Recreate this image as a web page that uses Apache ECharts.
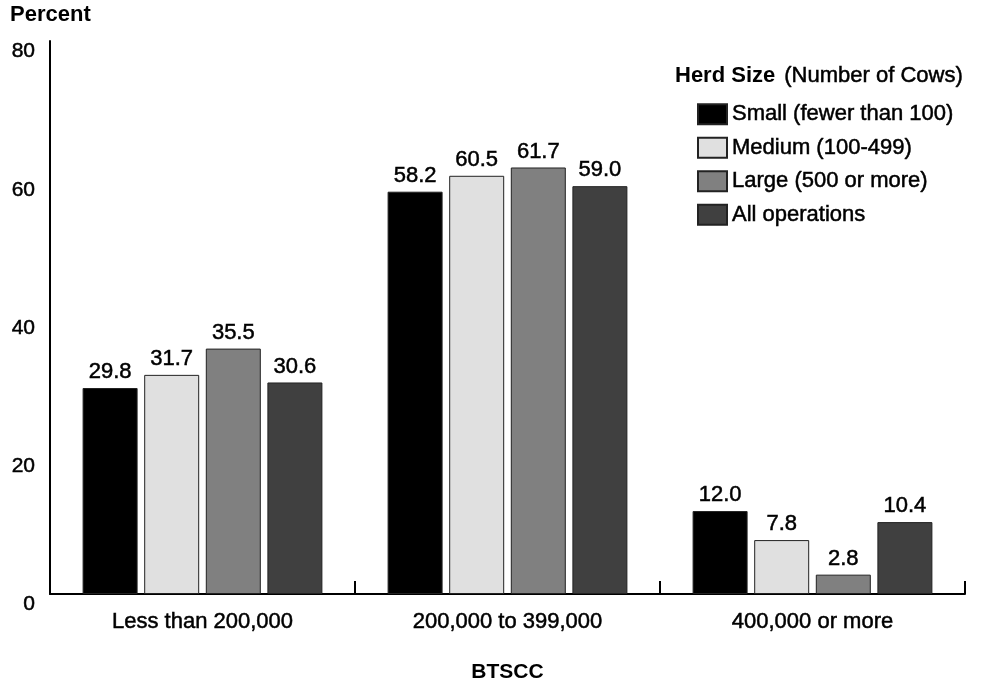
<!DOCTYPE html>
<html>
<head>
<meta charset="utf-8">
<script src="https://cdn.jsdelivr.net/npm/echarts@6/dist/echarts.min.js"></script>
<style>html,body{margin:0;padding:0;background:#fff}#c{width:985px;height:690px}</style>
</head>
<body>
<div id="c"></div>
<script>
const categories = ['Less than 200,000', '200,000 to 399,000', '400,000 or more'];
const seriesNames = ['Small (fewer than 100)', 'Medium (100-499)', 'Large (500 or more)', 'All operations'];
const small = [29.8, 58.2, 12.0];
const medium = [31.7, 60.5, 7.8];
const large = [35.5, 61.7, 2.8];
const allOps = [30.6, 59.0, 10.4];
const yTicks = [0, 20, 40, 60, 80];
const colors = ['#000000', '#e0e0e0', '#808080', '#404040'];

const FONT = 'Arial, "Liberation Sans", sans-serif';
const HEAVY = {textBorderColor: '#000', textBorderWidth: 0.5};
const chart = echarts.init(document.getElementById('c'), null, {renderer: 'canvas'});
const datasets = [small, medium, large, allOps];

const option = {
  animation: false,
  textStyle: {fontFamily: FONT, color: '#000'},
  grid: {left: 50, right: 20, top: 41, bottom: 96, containLabel: false, outerBoundsMode: 'none'},
  graphic: [
    {type: 'text', left: 10, top: 4, style: {text: 'Percent', font: 'bold 22px ' + FONT, fill: '#000'}},
    {type: 'text', left: 675, top: 65, style: {text: 'Herd Size', font: 'bold 22px ' + FONT, fill: '#000'}},
    {type: 'text', left: 784, top: 65, style: {text: '(Number of Cows)', font: '22px ' + FONT, fill: '#000', stroke: '#000', lineWidth: 0.5}}
  ],
  legend: {
    orient: 'vertical', left: 697, top: 103, padding: 0,
    itemWidth: 29, itemHeight: 20, itemGap: 11, icon: 'rect',
    textStyle: Object.assign({fontSize: 22, fontFamily: FONT, color: '#000'}, HEAVY),
    data: seriesNames
  },
  xAxis: {
    type: 'category', data: categories,
    name: 'BTSCC', nameLocation: 'middle', nameGap: 68,
    nameTextStyle: {fontWeight: 'bold', fontSize: 21, fontFamily: FONT, color: '#000'},
    axisLine: {lineStyle: {color: '#000', width: 2}},
    axisTick: {show: true, inside: true, length: 13, lineStyle: {color: '#000', width: 2}},
    axisLabel: Object.assign({fontSize: 22, fontFamily: FONT, color: '#000', margin: 17}, HEAVY)
  },
  yAxis: {
    type: 'value', min: 0, max: 80, interval: 20,
    axisLine: {show: true, lineStyle: {color: '#000', width: 2}},
    axisTick: {show: false},
    splitLine: {show: false},
    axisLabel: Object.assign({fontSize: 21, fontFamily: FONT, color: '#000', margin: 15, verticalAlign: 'top',
      formatter: v => yTicks.includes(v) ? String(v) : ''}, HEAVY)
  },
  series: datasets.map((d, i) => ({
    name: seriesNames[i], type: 'bar', data: d,
    barWidth: 55, barGap: '12%',
    itemStyle: {color: colors[i], borderColor: '#222', borderWidth: 1},
    label: Object.assign({show: true, position: 'top', distance: 5, fontSize: 22, fontFamily: FONT, color: '#000',
      formatter: p => p.value.toFixed(1)}, HEAVY)
  }))
};
chart.setOption(option);
</script>
</body>
</html>
